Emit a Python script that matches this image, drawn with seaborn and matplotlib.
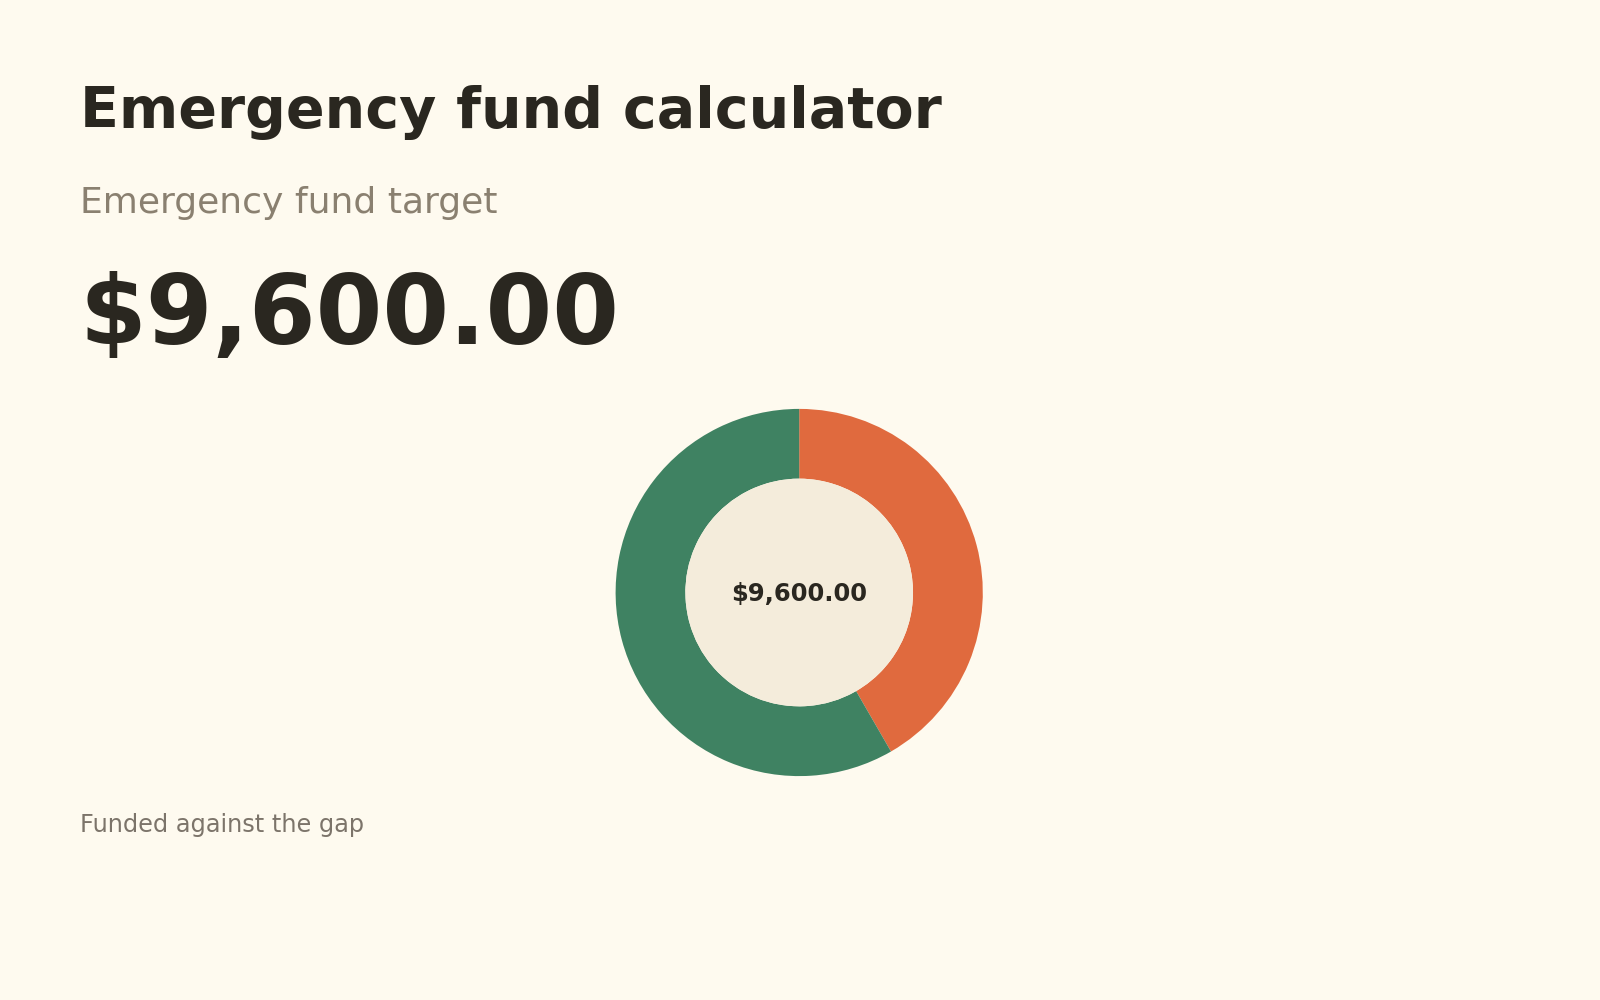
import numpy as np
import seaborn as sns
import matplotlib.pyplot as plt
from matplotlib.patches import Circle

# Data
segment_labels = ['Funded', 'Gap']
segment_values = [4000, 5600]
target_total = sum(segment_values)
target_text = f"${target_total:,.2f}"

title_text = 'Emergency fund calculator'
subtitle_text = 'Emergency fund target'
footnote_text = 'Funded against the gap'

# Colours
bg = '#FEFAEF'
ink = '#2A2720'
muted = '#8A8070'
inner_fill = '#F4ECDB'
palette = sns.color_palette(['#E06A3E', '#3F8262'])

sns.set_theme(style='white', rc={'figure.facecolor': bg, 'axes.facecolor': bg})
plt.rcParams['font.family'] = ['DejaVu Sans']

fig = plt.figure(figsize=(16, 10), dpi=100)

# Header texts
fig.text(0.0497, 0.872, title_text, fontsize=41, fontweight='bold', color=ink, ha='left', va='baseline')
fig.text(0.0497, 0.787, subtitle_text, fontsize=26, color=muted, ha='left', va='baseline')
fig.text(0.0497, 0.656, target_text, fontsize=69, fontweight='bold', color=ink, ha='left', va='baseline')

# Donut
ax = fig.add_axes([0.356, 0.178, 0.287, 0.459])
inner_r = 0.62
ax.pie(segment_values, colors=palette, startangle=90, counterclock=False,
       wedgeprops=dict(width=1 - inner_r, linewidth=0))
ax.add_patch(Circle((0, 0), inner_r, facecolor=inner_fill, edgecolor='none', zorder=3))
ax.text(0, -0.01, target_text, fontsize=17.5, fontweight='bold', color=ink, ha='center', va='center', zorder=4)
ax.set_xlim(-1.25, 1.25)
ax.set_ylim(-1.25, 1.25)
ax.set_aspect('equal')
ax.axis('off')

fig.text(0.0497, 0.168, footnote_text, fontsize=17.3, color='#7C746A', ha='left', va='baseline')

fig.savefig('out.png', dpi=100, facecolor=bg)
